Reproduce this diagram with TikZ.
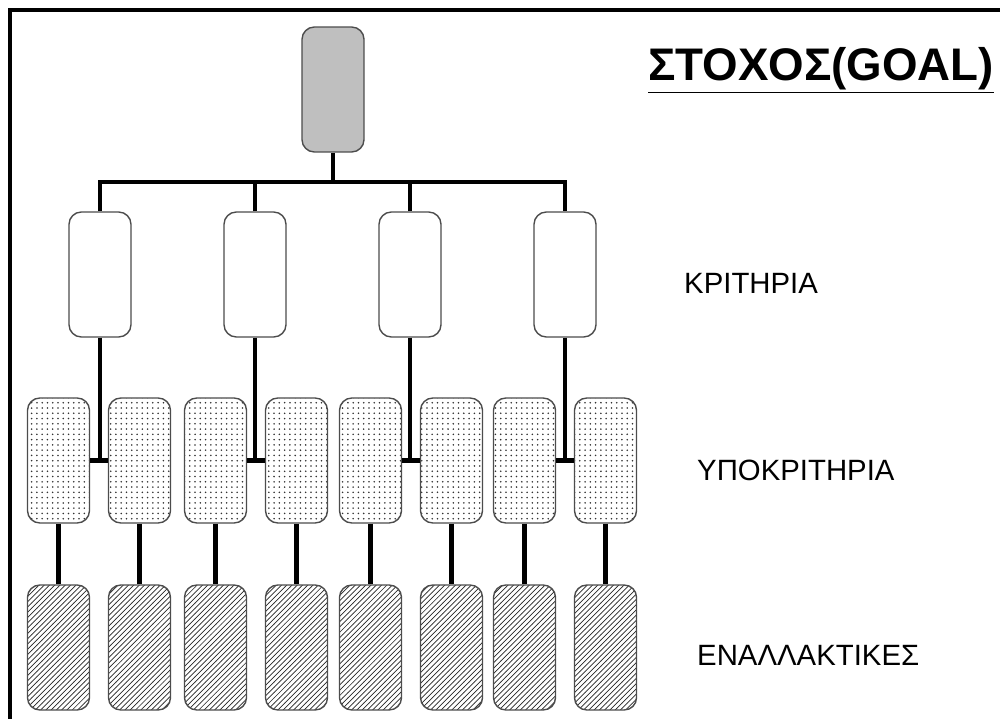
\documentclass[tikz,border=0pt]{standalone}
\usepackage{fontspec}
\setmainfont{Liberation Sans}
\usetikzlibrary{positioning,patterns,calc}

\begin{document}
\begin{tikzpicture}[
  x=0.02cm, y=-0.02cm,
  box/.style={draw=black!70, line width=0.8pt, rounded corners=7pt,
    minimum width=1.24cm, minimum height=2.5cm, inner sep=0pt},
  goalbox/.style={box, fill=black!25},
  critbox/.style={box, fill=white},
  subbox/.style={box, pattern=dots, pattern color=black!80},
  altbox/.style={box, pattern=north east lines, pattern color=black!85},
  link/.style={line width=2.4pt},
  label/.style={font=\fontsize{16.7}{18}\selectfont, anchor=west}
]
\useasboundingbox (0,0) rectangle (1000,719);

% frame (only top and left edges fall inside the picture)
\draw[line width=2.6pt] (10,719) -- (10,10) -- (1000,10);

% goal
\node[goalbox] (goal) at (333,89.5) {};

% criteria
\node[critbox] (c1) at (100,274.5) {};
\node[critbox] (c2) at (255,274.5) {};
\node[critbox] (c3) at (410,274.5) {};
\node[critbox] (c4) at (565,274.5) {};

% sub-criteria and alternatives
\foreach \i/\x in {1/58.5,2/139.5,3/215.5,4/296.5,5/370.5,6/451.5,7/524.5,8/605.5} {
  \node[subbox] (s\i) at (\x,460.5) {};
  \node[altbox] (a\i) at (\x,647.5) {};
  \draw[link] (s\i.south) -- (a\i.north);
}

% goal to criteria
\coordinate (bar) at (333,182);
\draw[link] (goal.south) -- (bar);
\draw[link] (c1.north) |- (bar) -| (c4.north);
\draw[link] (c2.north) -- (c2.north |- bar);
\draw[link] (c3.north) -- (c3.north |- bar);

% criteria to sub-criteria
\foreach \c/\l/\r in {1/1/2,2/3/4,3/5/6,4/7/8} {
  \draw[link] (c\c.south) -- (c\c.south |- s\l.east);
  \draw[link] (s\l.east) -- (s\r.west);
}

% labels
\node[anchor=west, font=\bfseries\fontsize{26}{30}\selectfont] (goaltxt) at (642,70) {\underline{ΣΤΟΧΟΣ(GOAL)}};
\node[label] (crittxt) at (678,283) {ΚΡΙΤΗΡΙΑ};
\node[label] (subtxt) at (691,470) {ΥΠΟΚΡΙΤΗΡΙΑ};
\node[label] (alttxt) at (691,655) {ΕΝΑΛΛΑΚΤΙΚΕΣ};

\end{tikzpicture}
\end{document}
